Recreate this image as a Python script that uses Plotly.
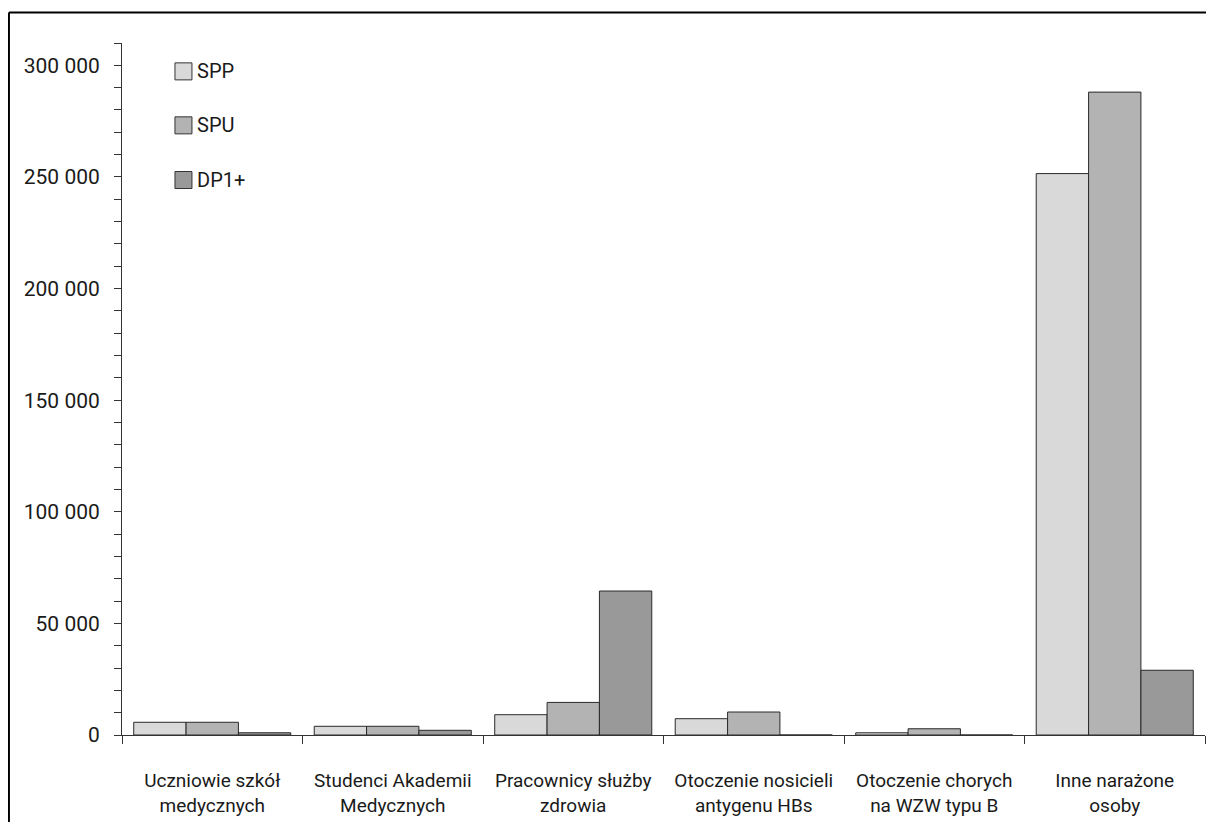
import plotly.graph_objects as go

categories = [
    "Uczniowie szkół<br>medycznych",
    "Studenci Akademii<br>Medycznych",
    "Pracownicy służby<br>zdrowia",
    "Otoczenie nosicieli<br>antygenu HBs",
    "Otoczenie chorych<br>na WZW typu B",
    "Inne narażone<br>osoby",
]
series_names = ["SPP", "SPU", "DP1+"]
spp = [5700, 3900, 9100, 7300, 1000, 251500]
spu = [5700, 3900, 14600, 10300, 2800, 288000]
dp1 = [1000, 2100, 64500, 0, 0, 29000]
series_values = [spp, spu, dp1]
colors = ["#d9d9d9", "#b3b3b3", "#999999"]

FONT = "Roboto, sans-serif"

fig = go.Figure()
for name, vals, col in zip(series_names, series_values, colors):
    fig.add_trace(go.Bar(
        x=categories, y=vals, name=name,
        marker=dict(color=col, line=dict(color="#2a2a2a", width=1)),
        showlegend=False,
    ))

# manual legend
shapes = []
annotations = []
leg_y = [0.959, 0.881, 0.802]
for name, col, yy in zip(series_names, colors, leg_y):
    shapes.append(dict(type="rect", xref="paper", yref="paper",
                       x0=0.0489, x1=0.0646, y0=yy - 0.0123, y1=yy + 0.0123,
                       fillcolor=col, line=dict(color="#333333", width=1)))
    annotations.append(dict(xref="paper", yref="paper", x=0.067, y=yy,
                            text=name, showarrow=False, xanchor="left", yanchor="middle",
                            font=dict(size=20, color="#1a1a1a", family=FONT)))

# frame lines (left and top)
shapes.append(dict(type="line", xref="paper", yref="paper", x0=-0.1044, x1=-0.1044,
                   y0=-0.2, y1=1.044, line=dict(color="black", width=2)))
shapes.append(dict(type="line", xref="paper", yref="paper", x0=-0.1044, x1=1.02,
                   y0=1.044, y1=1.044, line=dict(color="black", width=2)))

fig.update_layout(
    width=1198, height=814,
    margin=dict(l=114, r=1, t=35, b=87),
    paper_bgcolor="white", plot_bgcolor="white",
    barmode="group", bargap=0.13, bargroupgap=0,
    separators=", ",
    font=dict(family=FONT, size=20, color="#1a1a1a"),
    shapes=shapes, annotations=annotations,
)
fig.update_yaxes(
    range=[0, 310000], dtick=50000, tickformat=",d",
    showline=True, linecolor="#333333", linewidth=1,
    ticks="outside", ticklen=7, tickcolor="#333333",
    minor=dict(dtick=10000, ticks="outside", ticklen=7, tickcolor="#333333"),
    showgrid=False, zeroline=False, ticklabelstandoff=10,
    tickfont=dict(size=21),
)
fig.update_xaxes(
    showline=True, linecolor="#333333", linewidth=1,
    ticks="outside", ticklen=8, tickcolor="#333333", tickson="boundaries",
    showgrid=False, tickangle=0, ticklabelstandoff=28,
    tickfont=dict(size=19),
)
fig.write_html("out.html")
